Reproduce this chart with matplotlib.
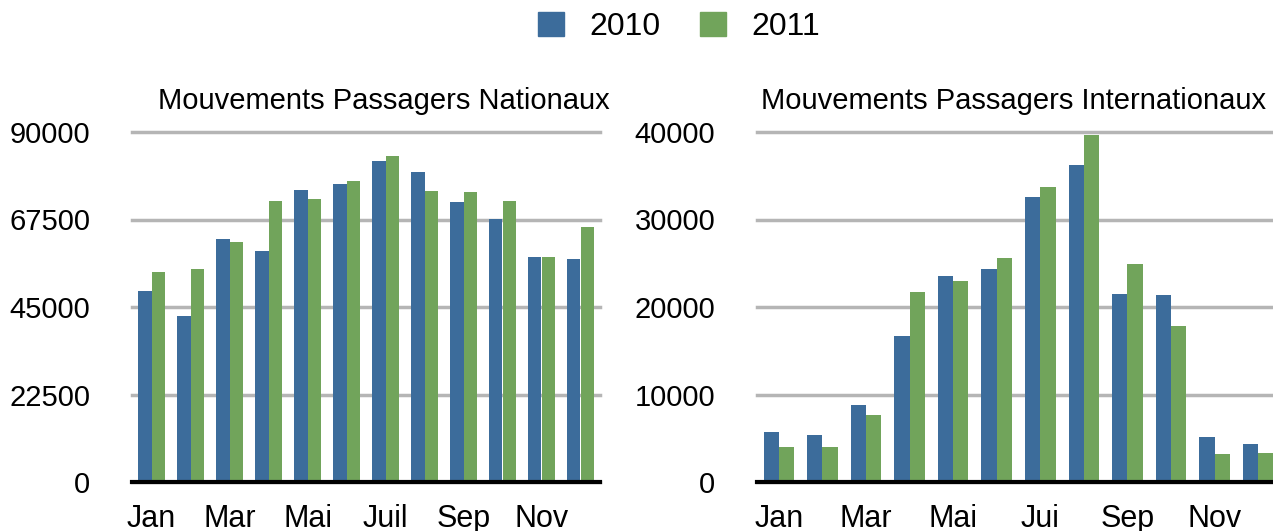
import matplotlib
matplotlib.use("Agg")
import matplotlib.pyplot as plt
import matplotlib.patches as patches
import numpy as np

plt.rcParams['font.family'] = ['Liberation Sans', 'DejaVu Sans']

months = ['Jan', 'Fév', 'Mar', 'Avr', 'Mai', 'Juin', 'Juil', 'Août', 'Sep', 'Oct', 'Nov', 'Déc']
labels_nat = ['Jan', 'Mar', 'Mai', 'Juil', 'Sep', 'Nov']
labels_int = ['Jan', 'Mar', 'Mai', 'Jui', 'Sep', 'Nov']

nat_2010 = [49100, 42700, 62500, 59400, 75100, 76700, 82600, 79800, 72000, 67700, 57900, 57400]
nat_2011 = [54000, 54800, 61700, 72300, 72800, 77500, 83900, 74900, 74600, 72300, 57900, 65600]
int_2010 = [5700, 5350, 8800, 16700, 23550, 24350, 32600, 36250, 21500, 21350, 5100, 4300]
int_2011 = [3950, 3950, 7650, 21700, 23000, 25600, 33750, 39600, 24900, 17800, 3150, 3300]

nat_ticks = [0, 22500, 45000, 67500, 90000]
int_ticks = [0, 10000, 20000, 30000, 40000]

blue = '#3c6c9b'
green = '#71a45b'

W, H = 1273, 531
fig = plt.figure(figsize=(W / 100, H / 100), dpi=100)

def panel(rect, v10, v11, yticks, xlabels, title, title_x):
    ax = fig.add_axes(rect)
    x = np.arange(len(months))
    w = 0.35
    ax.bar(x - w / 2, v10, w, color=blue, zorder=3)
    ax.bar(x + w / 2, v11, w, color=green, zorder=3)
    ax.set_xlim(-0.5, 11.5)
    ax.set_ylim(0, yticks[-1])
    ax.set_yticks(yticks)
    ax.set_yticklabels([str(t) for t in yticks])
    ax.set_xticks(x[::2])
    ax.set_xticklabels(xlabels)
    ax.yaxis.grid(True, color='#b5b5b5', lw=2.5)
    ax.set_axisbelow(True)
    for s in ['top', 'left', 'right']:
        ax.spines[s].set_visible(False)
    ax.spines['bottom'].set_color('black')
    ax.spines['bottom'].set_linewidth(3)
    ax.spines['bottom'].set_zorder(4)
    ax.tick_params(axis='y', length=0, pad=30, labelsize=21)
    ax.tick_params(axis='x', length=0, pad=16, labelsize=22)
    for gl in ax.get_ygridlines():
        gl.set_clip_on(False)
    fig.text(title_x / W, 1 - 101 / H, title, ha='center', va='center', fontsize=21)
    return ax

panel([132 / W, 49 / H, 468 / W, 350 / H], nat_2010, nat_2011, nat_ticks, labels_nat,
      'Mouvements Passagers Nationaux', 384)
panel([757 / W, 49 / H, 523 / W, 350 / H], int_2010, int_2011, int_ticks, labels_int,
      'Mouvements Passagers Internationaux', 1014)

handles = [patches.Patch(color=blue, label='2010'), patches.Patch(color=green, label='2011')]
fig.legend(handles=handles, loc='center', bbox_to_anchor=(679 / W, 1 - 27 / H), ncol=2,
           frameon=False, fontsize=23, handlelength=0.8, handleheight=0.8,
           handletextpad=0.8, columnspacing=1.25)

fig.savefig('out.png', dpi=100)
